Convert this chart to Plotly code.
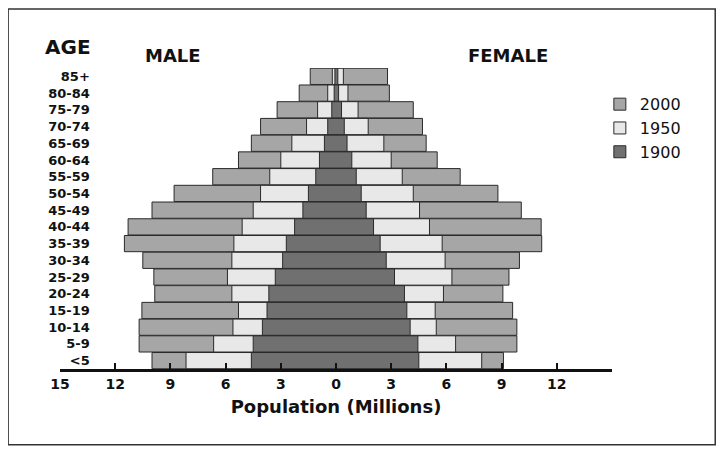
import plotly.graph_objects as go

# age groups, bottom to top
ages = ["<5", "5-9", "10-14", "15-19", "20-24", "25-29", "30-34", "35-39", "40-44",
        "45-49", "50-54", "55-59", "60-64", "65-69", "70-74", "75-79", "80-84", "85+"]

# population in millions
male_2000 = [10.0, 10.7, 10.7, 10.55, 9.85, 9.9, 10.5, 11.5, 11.3,
             10.0, 8.8, 6.7, 5.3, 4.6, 4.1, 3.2, 2.0, 1.4]
male_1950 = [8.15, 6.65, 5.6, 5.3, 5.66, 5.9, 5.66, 5.55, 5.1,
             4.5, 4.1, 3.6, 3.0, 2.4, 1.6, 1.0, 0.45, 0.2]
male_1900 = [4.6, 4.5, 4.0, 3.75, 3.65, 3.3, 2.9, 2.7, 2.25,
             1.8, 1.5, 1.1, 0.9, 0.63, 0.45, 0.23, 0.1, 0.06]

female_2000 = [9.1, 9.83, 9.83, 9.6, 9.07, 9.4, 9.97, 11.18, 11.15,
               10.07, 8.8, 6.75, 5.5, 4.9, 4.7, 4.2, 2.9, 2.8]
female_1950 = [7.92, 6.5, 5.45, 5.39, 5.84, 6.3, 5.93, 5.77, 5.08,
               4.54, 4.2, 3.6, 3.0, 2.6, 1.75, 1.2, 0.65, 0.4]
female_1900 = [4.5, 4.45, 4.03, 3.85, 3.72, 3.18, 2.73, 2.4, 2.04,
               1.64, 1.37, 1.1, 0.86, 0.6, 0.45, 0.3, 0.14, 0.1]

years = ["2000", "1950", "1900"]
colors = ["#a6a6a6", "#e8e8e8", "#707070"]

tick_vals = [-15, -12, -9, -6, -3, 0, 3, 6, 9, 12, 15]
tick_text = ["15", "12", "9", "6", "3", "0", "3", "6", "9", "12", ""]

male = [male_2000, male_1950, male_1900]
female = [female_2000, female_1950, female_1900]

FONT = "DejaVu Sans"

fig = go.Figure()

# one bar per age group running from -male to +female,
# widest year first so the older years sit on top
for year, col, m, f in zip(years, colors, male, female):
    fig.add_trace(go.Bar(
        y=ages,
        base=[-v for v in m],
        x=[a + b for a, b in zip(m, f)],
        orientation="h",
        name=year,
        marker=dict(color=col, line=dict(color="#2a2a2a", width=1)),
    ))

# page body adds 8px, so margins are 8px smaller on the left/top
fig.update_layout(
    width=725, height=455,
    margin=dict(l=52, r=121, t=60, b=94),
    barmode="overlay",
    bargap=0.03,
    paper_bgcolor="white",
    plot_bgcolor="white",
    font=dict(family=FONT, color="#111"),
    legend=dict(
        x=0.978, y=0.936, xanchor="left", yanchor="top",
        font=dict(size=16, family=FONT),
        traceorder="normal",
        bgcolor="rgba(0,0,0,0)",
    ),
    xaxis=dict(
        range=[-15, 15],
        tickvals=tick_vals, ticktext=tick_text,
        ticks="inside", ticklen=6, tickwidth=2, tickcolor="#111",
        showline=True, linecolor="#111", linewidth=2.5,
        showgrid=False, zeroline=False, automargin=False,
        tickfont=dict(size=14, family=FONT, weight="bold"),
        title=dict(text="Population (Millions)", standoff=10,
                   font=dict(size=18, family=FONT, weight="bold")),
    ),
    yaxis=dict(
        type="category",
        tickmode="array", tickvals=ages,
        anchor="free", position=0.054,
        showline=False, ticks="", showgrid=False, zeroline=False,
        automargin=False,
        tickfont=dict(size=13, family=FONT, weight="bold"),
    ),
)

# headings
head = dict(xref="paper", yref="paper", xanchor="center", yanchor="middle",
            showarrow=False)
fig.add_annotation(text="AGE", x=0.0145, y=1.07,
                   font=dict(size=20, family=FONT, weight="bold"), **head)
fig.add_annotation(text="MALE", x=0.204, y=1.042,
                   font=dict(size=18, family=FONT, weight="bold"), **head)
fig.add_annotation(text="FEMALE", x=0.812, y=1.042,
                   font=dict(size=18, family=FONT, weight="bold"), **head)

# outer frame
fig.add_shape(type="rect", xref="paper", yref="paper",
              x0=-0.094, x1=1.187, y0=-0.252, y1=1.196,
              line=dict(color="#333", width=1.5))

fig.write_html("out.html")
